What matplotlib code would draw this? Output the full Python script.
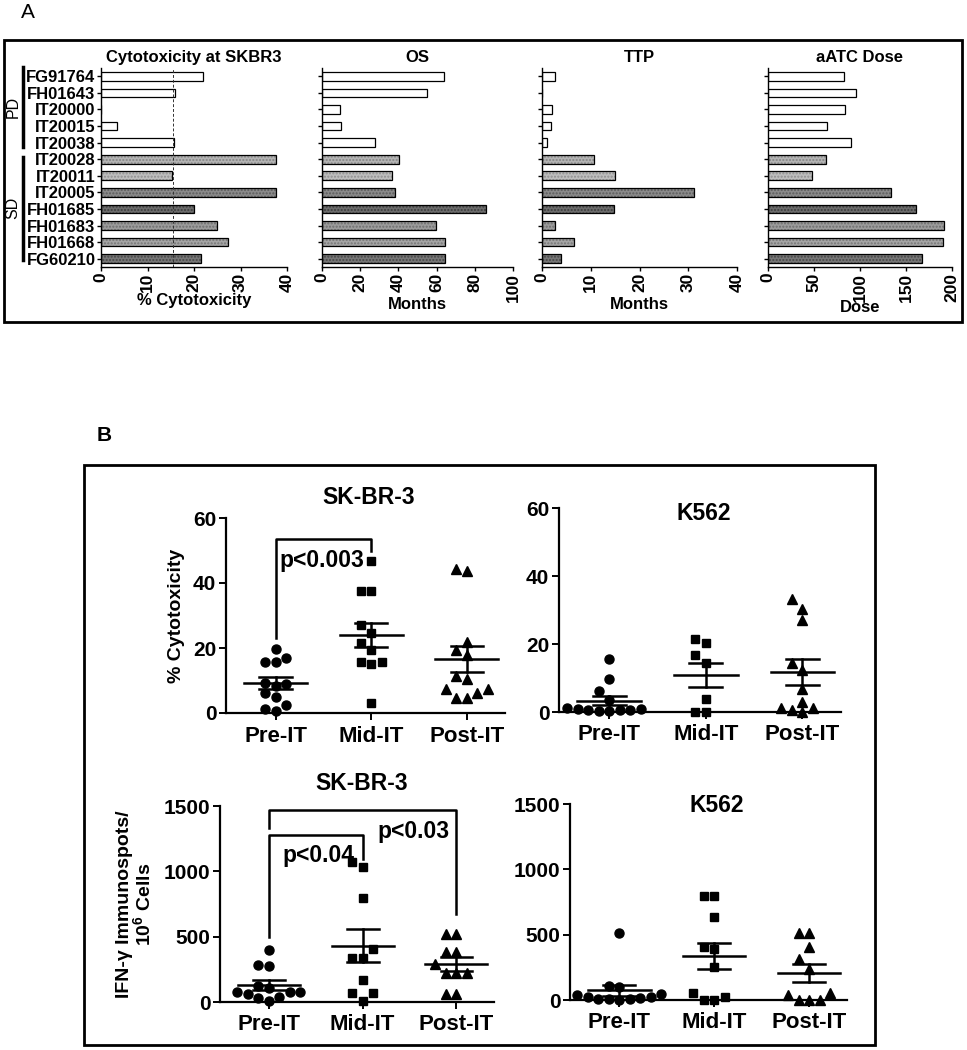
import matplotlib
matplotlib.use('Agg')
import matplotlib.pyplot as plt
from matplotlib.lines import Line2D
from matplotlib.patches import Rectangle
import numpy as np

plt.rcParams['font.family'] = ['Liberation Sans', 'DejaVu Sans']
plt.rcParams['font.weight'] = 'bold'
plt.rcParams['axes.labelweight'] = 'bold'
plt.rcParams['mathtext.fontset'] = 'custom'
plt.rcParams['mathtext.bf'] = 'Liberation Sans:bold'
plt.rcParams['mathtext.rm'] = 'Liberation Sans:bold'

# ---- panel A data ----
patients = ['FG91764', 'FH01643', 'IT20000', 'IT20015', 'IT20038', 'IT20028',
            'IT20011', 'IT20005', 'FH01685', 'FH01683', 'FH01668', 'FG60210']
cytotox = [22.0, 16.0, 0.0, 3.5, 15.7, 37.6, 15.3, 37.6, 19.9, 24.9, 27.3, 21.4]
os_months = [63.8, 54.9, 9.2, 9.9, 27.5, 40.1, 36.6, 38.0, 85.7, 59.9, 64.5, 64.5]
ttp_months = [2.6, 0.0, 2.0, 1.9, 1.0, 10.6, 14.9, 31.1, 14.7, 2.6, 6.6, 3.8]
aatc_dose = [83, 96, 84, 64.5, 90.5, 62.5, 48, 134, 161, 191, 190, 167]
cytotox_cutoff = 15.5
# PD patients are white bars, SD patients are grey hatched
bar_face = ['white'] * 5 + ['#b4b4b4', '#bdbdbd', '#8a8a8a', '#6c6c6c', '#9c9c9c', '#a4a4a4', '#767676']

# ---- panel B data ----
groups = ['Pre-IT', 'Mid-IT', 'Post-IT']
sk_cyto = [[19.7, 17.0, 15.7, 15.7, 9.3, 9.0, 8.2, 6.2, 4.8, 2.5, 1.2, 0.5],
           [46.7, 37.4, 37.4, 27.0, 24.6, 21.5, 19.5, 15.7, 15.2, 15.7, 3.1],
           [44.4, 43.8, 22.0, 19.5, 18.0, 11.3, 10.6, 7.4, 7.4, 6.2, 4.6, 4.6]]
k562_cyto = [[15.5, 9.6, 6.1, 3.4, 1.2, 1.0, 0.8, 0.7, 0.5, 0.5, 0.3, 0.2],
             [21.4, 20.2, 16.7, 14.3, 3.9, 0.0, 0.0],
             [33.1, 30.2, 27.0, 14.3, 12.3, 6.9, 3.0, 1.3, 1.2, 0.5, 0.0]]
sk_ifn = [[401, 286, 276, 123, 110, 80, 80, 75, 60, 40, 30, 5],
          [1073, 1030, 797, 406, 340, 340, 171, 72, 72, 5],
          [520, 520, 380, 380, 290, 225, 225, 225, 64, 64]]
k562_ifn = [[515, 110, 102, 46, 38, 20, 20, 15, 10, 10, 5, 0],
            [798, 798, 633, 408, 393, 255, 51, 20, 0, 0],
            [510, 510, 408, 311, 235, 56, 38, 0, 0, 0]]
markers = ['o', 's', '^']
msizes = [6.5, 6.0, 7.0]

W, H = 967, 1050
fig = plt.figure(figsize=(W / 100, H / 100), dpi=100)


def rect(x0, y0, x1, y1):
    return [x0 / W, 1 - y1 / H, (x1 - x0) / W, (y1 - y0) / H]


def ftext(x, y, s, **kw):
    fig.text(x / W, 1 - y / H, s, **kw)


def fline(x0, y0, x1, y1, lw=2.5):
    fig.add_artist(Line2D([x0 / W, x1 / W], [1 - y0 / H, 1 - y1 / H],
                          transform=fig.transFigure, color='black', lw=lw))


def fbox(x0, y0, x1, y1, lw=2.0):
    fig.add_artist(Rectangle((x0 / W, 1 - y1 / H), (x1 - x0) / W, (y1 - y0) / H,
                             transform=fig.transFigure, fill=False, ec='black', lw=lw))


# ================= panel A =================
ftext(21, 3, 'A', fontsize=15, fontweight='normal', va='top')
fbox(4, 40, 962, 322)

bar_specs = [
    (101, 287, cytotox, 40, [0, 10, 20, 30, 40], 'Cytotoxicity at SKBR3', '% Cytotoxicity', 301),
    (322, 513, os_months, 100, [0, 20, 40, 60, 80, 100], 'OS', 'Months', 305),
    (542, 737, ttp_months, 40, [0, 10, 20, 30, 40], 'TTP', 'Months', 305),
    (768, 952, aatc_dose, 200, [0, 50, 100, 150, 200], 'aATC Dose', 'Dose', 308),
]
ypos = np.arange(len(patients))
for i, (x0, x1, vals, xmax, xt, title, xlab, ylab_px) in enumerate(bar_specs):
    ax = fig.add_axes(rect(x0, 68, x1, 267))
    for j, v in enumerate(vals):
        if j >= 5:
            shade = tuple(max(c - 0.18, 0) for c in matplotlib.colors.to_rgb(bar_face[j]))
            ax.barh(ypos[j], v, height=0.52, color=bar_face[j], hatch='.....',
                    edgecolor=shade, linewidth=0)
        else:
            ax.barh(ypos[j], v, height=0.52, color='white', linewidth=0)
        ax.barh(ypos[j], v, height=0.52, fill=False, edgecolor='black', linewidth=0.9)
    ax.set_xlim(0, xmax)
    ax.set_ylim(len(patients) - 0.5, -0.5)
    ax.set_xticks(xt)
    ax.set_xticklabels([str(t) for t in xt], rotation=90, fontsize=12.5)
    ax.set_yticks(ypos)
    if i == 0:
        ax.set_yticklabels(patients, fontsize=12)
        ax.axvline(cytotox_cutoff, color='#333333', lw=0.7, ls=(0, (3, 2)))
    else:
        ax.set_yticklabels([])
    ax.tick_params(direction='out', length=3, width=1, pad=1)
    for s in ['top', 'right']:
        ax.spines[s].set_visible(False)
    for s in ['left', 'bottom']:
        ax.spines[s].set_linewidth(1.0)
    ax.set_title(title, fontsize=12, fontweight='bold', pad=4)
    ax.set_xlabel(xlab, fontsize=12, fontweight='bold', va='center')
    ax.xaxis.set_label_coords(0.5, (267 - ylab_px) / 199)

# PD / SD group markers
fline(23, 67, 23, 147, lw=2.5)
fline(23, 157, 23, 260, lw=2.5)
ftext(13, 107, 'PD', fontsize=11.5, fontweight='normal', rotation=90, ha='center', va='center')
ftext(13, 208, 'SD', fontsize=11.5, fontweight='normal', rotation=90, ha='center', va='center')

# ================= panel B =================
ftext(97, 426, 'B', fontsize=15, fontweight='bold', va='top')
fbox(84, 465, 875, 1045)


def swarm_offsets(ax, xc, vals, step_px):
    vals = np.asarray(vals, dtype=float)
    disp = ax.transData.transform(np.column_stack([np.full(len(vals), xc), vals]))
    ypx = disp[:, 1]
    placed = []
    offs = np.zeros(len(vals))
    ks = [0]
    for k in range(1, 12):
        ks += [-k, k]
    for i in np.argsort(vals, kind='stable'):
        for k in ks:
            xo = k * step_px
            if all((xo - px) ** 2 + (ypx[i] - py) ** 2 >= (step_px * 0.95) ** 2 for px, py in placed):
                break
        placed.append((xo, ypx[i]))
        offs[i] = xo
    unit = ax.transData.transform((1, 0))[0] - ax.transData.transform((0, 0))[0]
    return offs / unit


def dot_panel(pos, data, ymax, yt, title, title_xy):
    ax = fig.add_axes(rect(*pos))
    ax.set_xlim(-0.52, 2.4)
    ax.set_ylim(0, ymax)
    for s in ['top', 'right']:
        ax.spines[s].set_visible(False)
    for s in ['left', 'bottom']:
        ax.spines[s].set_linewidth(1.6)
    ax.set_yticks(yt)
    ax.set_yticklabels([str(t) for t in yt], fontsize=15)
    ax.set_xticks([0, 1, 2])
    ax.set_xticklabels(groups, fontsize=16)
    ax.tick_params(direction='out', length=5, width=1.4, pad=2)
    ax.tick_params(axis='x', pad=4)
    for g, vals in enumerate(data):
        off = swarm_offsets(ax, g, vals, 10.5)
        ax.plot(g + off, vals, ls='none', marker=markers[g], ms=msizes[g],
                color='black', clip_on=False, zorder=3)
        arr = np.asarray(vals, dtype=float)
        m = arr.mean()
        sem = arr.std(ddof=1) / np.sqrt(len(arr))
        ax.plot([g - 0.33, g + 0.33], [m, m], color='black', lw=1.8, zorder=4)
        ax.plot([g - 0.17, g + 0.17], [m + sem, m + sem], color='black', lw=1.8, zorder=4)
        ax.plot([g - 0.17, g + 0.17], [m - sem, m - sem], color='black', lw=1.8, zorder=4)
        ax.plot([g, g], [m - sem, m + sem], color='black', lw=1.8, zorder=4)
    ftext(title_xy[0], title_xy[1], title, fontsize=16.5, ha='center', va='center')
    return ax


def bracket(ax, x0, x1, ytop, y0, y1):
    ax.plot([x0, x0, x1, x1], [y0, ytop, ytop, y1], color='black', lw=1.8, clip_on=False)


ax_tl = dot_panel((226, 518, 505, 713), sk_cyto, 60, [0, 20, 40, 60], 'SK-BR-3', (369, 497))
bracket(ax_tl, 0, 1, 53.5, 23, 50)
ax_tl.text(0.48, 47, 'p<0.003', fontsize=16.5, ha='center', va='center')
ax_tl.set_ylabel('% Cytotoxicity', fontsize=14, fontweight='bold', labelpad=6)

ax_tr = dot_panel((559, 508, 841, 712), k562_cyto, 60, [0, 20, 40, 60], 'K562', (704, 513))

ax_bl = dot_panel((220, 806, 494, 1002), sk_ifn, 1500, [0, 500, 1000, 1500], 'SK-BR-3', (362, 783))
bracket(ax_bl, 0, 2, 1469, 1329, 672)
bracket(ax_bl, 0, 1, 1278, 498, 1091)
ax_bl.text(0.53, 1124, 'p<0.04', fontsize=16.5, ha='center', va='center')
ax_bl.text(1.54, 1303, 'p<0.03', fontsize=16.5, ha='center', va='center')
ax_bl.set_ylabel('IFN-\u03b3 Immunospots/\n10$^{6}$ Cells', fontsize=14, fontweight='bold',
                 labelpad=6, linespacing=1.0)

ax_br = dot_panel((570, 804, 847, 1000), k562_ifn, 1500, [0, 500, 1000, 1500], 'K562', (717, 805))

fig.savefig('out.png', dpi=100)
